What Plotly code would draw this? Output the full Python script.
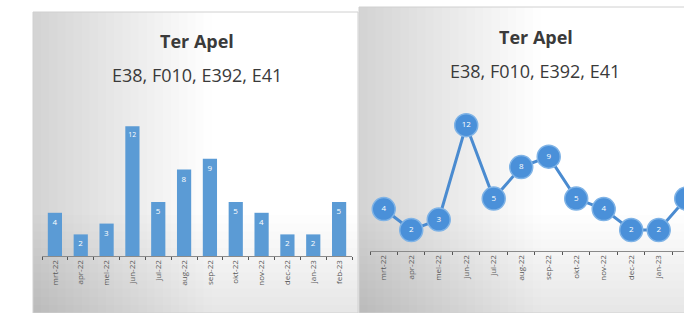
import plotly.graph_objects as go

months = ["mrt-22", "apr-22", "mei-22", "jun-22", "jul-22", "aug-22",
          "sep-22", "okt-22", "nov-22", "dec-22", "jan-23", "feb-23"]
bar_values = [4, 2, 3, 12, 5, 8, 9, 5, 4, 2, 2, 5]
line_values = [4, 2, 3, 12, 5, 8, 9, 5, 4, 2, 2, 5]
title_line1 = "Ter Apel"
title_line2 = "E38, F010, E392, E41"

W, H = 684, 313
BLUE = "#5b9bd5"

def px_x(x):
    return x / W

def px_y(y):
    return 1 - y / H

fig = go.Figure()

fig.add_trace(go.Bar(
    x=months, y=bar_values, xaxis="x", yaxis="y",
    marker=dict(color=BLUE, line=dict(width=0)),
    text=[str(v) for v in bar_values], textposition="inside",
    insidetextanchor="end", textangle=0,
    textfont=dict(color="white", size=8, family="Open Sans"),
    width=0.55, showlegend=False, hoverinfo="x+y",
))

fig.add_trace(go.Scatter(
    x=months, y=line_values, xaxis="x2", yaxis="y2",
    mode="lines+markers+text",
    line=dict(color="#4a8bd0", width=3),
    marker=dict(size=23, color="#4a90d9", line=dict(color="#7fb3e6", width=1.5)),
    text=[str(v) for v in line_values], textposition="middle center",
    textfont=dict(color="white", size=8, family="Open Sans"),
    showlegend=False, cliponaxis=True,
))

shapes = []

def panel(x0, x1, y0, y1):
    n = 40
    wpx = (x1 - x0) / n
    for i in range(n):
        t = i / (n - 1)
        g = 0.83 + 0.17 * min(1.0, t / 0.55)
        c = int(round(255 * g))
        shapes.append(dict(type="rect", xref="paper", yref="paper", layer="below",
                           x0=px_x(x0 + i * wpx), x1=px_x(x0 + (i + 1) * wpx + 0.8),
                           y0=px_y(y1), y1=px_y(y0),
                           fillcolor=f"rgb({c},{c},{c})", line=dict(width=0)))
    m = 12
    top = 215
    hpx = (y1 - top) / m
    for j in range(m):
        shapes.append(dict(type="rect", xref="paper", yref="paper", layer="below",
                           x0=px_x(x0), x1=px_x(x1),
                           y0=px_y(y1), y1=px_y(top + j * hpx),
                           fillcolor="rgba(0,0,0,0.006)", line=dict(width=0)))
    shapes.append(dict(type="rect", xref="paper", yref="paper", layer="below",
                       x0=px_x(x0), x1=px_x(x1), y0=px_y(y1), y1=px_y(y0),
                       fillcolor="rgba(0,0,0,0)", line=dict(color="#d0d0d0", width=1)))

panel(33, 358, 12, 313)
panel(359, 690, 7, 313)

def title(text, x, y):
    return dict(text=text, x=px_x(x), y=px_y(y), xref="paper", yref="paper",
                xanchor="center", yanchor="middle", showarrow=False,
                font=dict(size=18, color="#3a3a3a", family="Open Sans"))

annotations = [
    title(f"<b>{title_line1}</b>", 197, 41),
    title(title_line2, 197, 75),
    title(f"<b>{title_line1}</b>", 536, 37),
    title(title_line2, 535, 71),
]

xcommon = dict(type="category", tickangle=-90, tickson="boundaries", ticks="outside",
               ticklen=3, tickcolor="#555555", showline=True, linecolor="#8a8a8a",
               linewidth=1, showgrid=False, zeroline=False,
               tickfont=dict(size=8, color="#595959", family="Open Sans"))

fig.update_layout(
    width=W, height=H, margin=dict(l=0, r=0, t=0, b=0),
    paper_bgcolor="white", plot_bgcolor="rgba(0,0,0,0)",
    shapes=shapes, annotations=annotations, bargap=0.45,
    xaxis=dict(domain=[px_x(42), px_x(352)], anchor="y", range=[-0.5, 11.5], **xcommon),
    yaxis=dict(domain=[px_y(256), px_y(108)], range=[0, 13.7], visible=False, anchor="x"),
    xaxis2=dict(domain=[px_x(370), 1.0], anchor="y2", range=[-0.5, 10.92], **xcommon),
    yaxis2=dict(domain=[px_y(251), px_y(100)], range=[0, 14.4], visible=False, anchor="x2"),
)

fig.write_html("out.html", config={"displayModeBar": False},
               post_script="document.body.style.margin='0';document.body.style.overflow='hidden';")
